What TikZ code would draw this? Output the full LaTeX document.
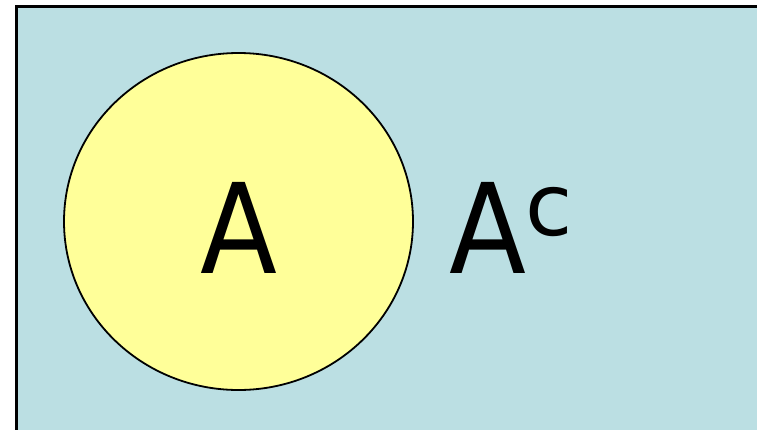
\documentclass[tikz,border=0pt]{standalone}
\usepackage{fontspec}
\setmainfont{DejaVu Sans}
\definecolor{setblue}{HTML}{BBDFE3}
\definecolor{setyellow}{HTML}{FFFF99}
\begin{document}
\begin{tikzpicture}[x=1pt,y=-1pt,
  bigletter/.style={inner sep=0pt, font=\fontsize{125}{125}\selectfont}]
\useasboundingbox (0,0) rectangle (757,429);
\clip (0,0) rectangle (757,429);
\draw[line width=3pt, fill=setblue] (16,6) rectangle (770,440);
\draw[line width=1.8pt, fill=setyellow] (238.5,221.5) ellipse [x radius=174.5, y radius=168.5];
\node[bigletter, anchor=base] (a) at (238.5,273) {\scalebox{0.9}[1]{A}};
\node[bigletter, anchor=base west] (ac) at (449,273) {\scalebox{0.9}[1]{A}\hspace{-1pt}\raisebox{38pt}{\fontsize{86}{86}\selectfont c}};
\end{tikzpicture}
\end{document}
